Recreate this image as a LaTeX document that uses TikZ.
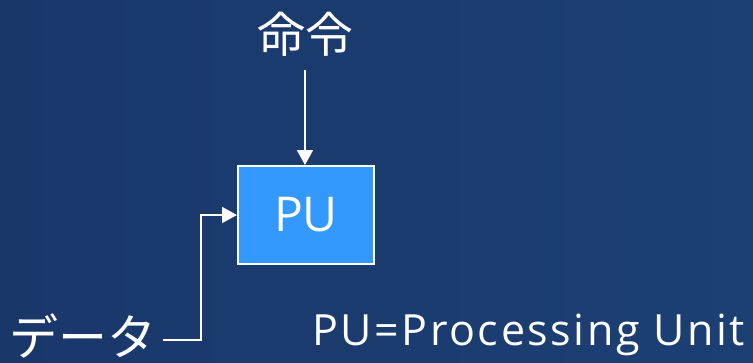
\documentclass[tikz,border=0pt]{standalone}
\usepackage{fontspec}
\newfontfamily\jpfont{Noto Sans CJK JP}
\newfontfamily\latinfont{Open Sans}
\newfontfamily\widelatin[LetterSpace=6]{Open Sans}
\setmainfont{Noto Sans CJK JP}
\usetikzlibrary{arrows.meta}
\definecolor{bgleft}{HTML}{1A376A}
\definecolor{bgright}{HTML}{1C4074}
\definecolor{pufill}{HTML}{3399FF}
\tikzset{
  label text/.style={text=white, inner sep=0pt, font=\jpfont\fontsize{48}{52}\selectfont},
  pubox/.style={draw=white, line width=2pt, fill=pufill, minimum width=136pt, minimum height=98pt, inner sep=0pt,
    text=white, font=\latinfont\fontsize{48}{52}\selectfont},
  link/.style={draw=white, line width=2pt, -{Triangle[length=15pt,width=16pt]}},
}
\begin{document}
\begin{tikzpicture}[x=1pt,y=-1pt]
  \useasboundingbox (0,0) rectangle (753,362);
  \shade[left color=bgleft, right color=bgright] (0,0) rectangle (753,362);
  \node[pubox] (pu) at (306,215) {PU};
  \node[label text] (cmd) at (305,34) {命令};
  \node[label text, anchor=west, font=\jpfont\fontsize{49}{53}\selectfont] (data) at (9,336) {データ};
  \node[label text, anchor=west, font=\widelatin\fontsize{43}{47}\selectfont] (note) at (312,335) {PU=Processing Unit};
  \coordinate (dataend) at (163,340);
  \coordinate (bend) at (201,340);
  \draw[link] (cmd.south |- 0,70) -- (pu.north -| cmd.south);
  \draw[link] (dataend) -- (bend) |- (pu.west |- 0,215);
\end{tikzpicture}
\end{document}
